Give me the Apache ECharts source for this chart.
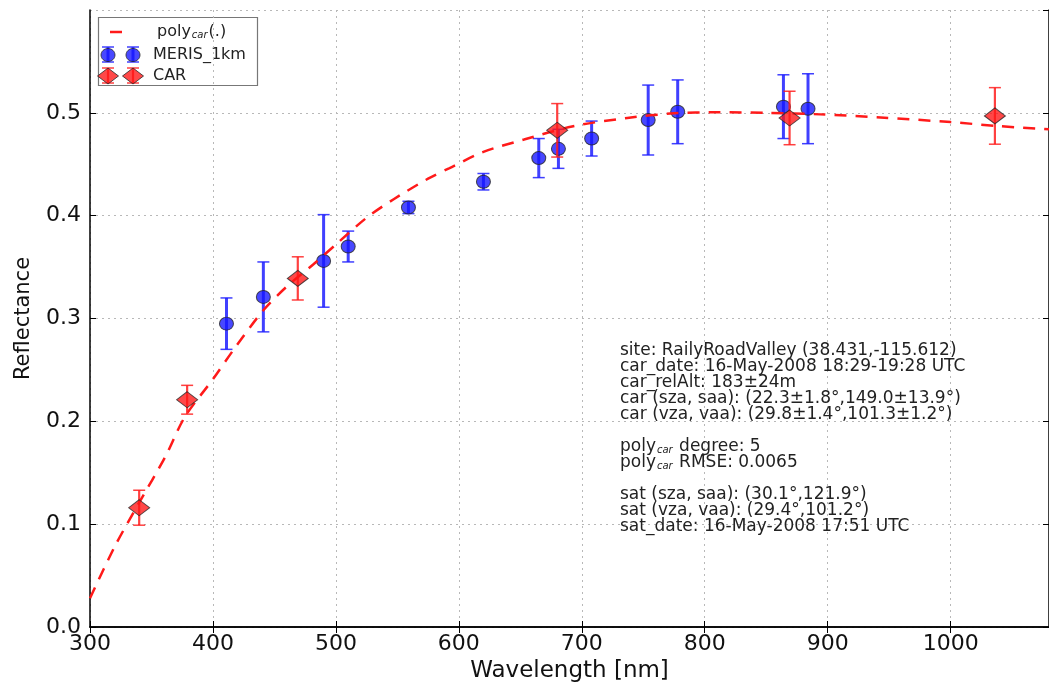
<!DOCTYPE html>
<html>
<head>
<meta charset="utf-8">
<script src="https://cdn.jsdelivr.net/npm/echarts@6/dist/echarts.min.js"></script>
<style>
html,body{margin:0;padding:0;background:#fff;overflow:hidden;}
#chart{width:1049px;height:686px;}
</style>
</head>
<body>
<div id="chart"></div>
<script>
// ---- data ----
const merisWl  = [411, 441, 490, 510, 559, 620, 665, 681, 708, 754, 778, 864, 884];
const merisVal = [0.295, 0.321, 0.356, 0.370, 0.408, 0.433, 0.456, 0.465, 0.475, 0.493, 0.501, 0.506, 0.504];
const merisErr = [0.025, 0.034, 0.045, 0.015, 0.006, 0.008, 0.019, 0.019, 0.017, 0.034, 0.031, 0.031, 0.034];

const carWl  = [340, 379, 469, 680, 869, 1036];
const carVal = [0.116, 0.221, 0.339, 0.483, 0.495, 0.497];
const carErr = [0.017, 0.014, 0.021, 0.026, 0.026, 0.0275];

const curveWl  = [300, 320, 340, 361, 377, 400, 417, 441, 460, 482, 500, 525, 547, 575, 592, 620, 653, 693, 737, 775, 810, 850, 894, 943, 1000, 1040, 1080];
const curveVal = [0.028, 0.078, 0.121, 0.165, 0.204, 0.241, 0.270, 0.308, 0.331, 0.353, 0.372, 0.398, 0.416, 0.436, 0.446, 0.462, 0.474, 0.487, 0.495, 0.4995, 0.5005, 0.500, 0.4985, 0.4955, 0.491, 0.487, 0.484];

const xTicks = [300, 400, 500, 600, 700, 800, 900, 1000];
const yTicks = ['0.0', '0.1', '0.2', '0.3', '0.4', '0.5'];

const infoLines = [
  'site: RailyRoadValley (38.431,-115.612)',
  'car_date: 16-May-2008 18:29-19:28 UTC',
  'car_relAlt: 183\u00b124m',
  'car (sza, saa): (22.3\u00b11.8\u00b0,149.0\u00b113.9\u00b0)',
  'car (vza, vaa): (29.8\u00b11.4\u00b0,101.3\u00b11.2\u00b0)',
  ' ',
  'poly{sub|car} degree: 5',
  'poly{sub|car} RMSE: 0.0065',
  ' ',
  'sat (sza, saa): (30.1\u00b0,121.9\u00b0)',
  'sat (vza, vaa): (29.4\u00b0,101.2\u00b0)',
  'sat_date: 16-May-2008 17:51 UTC'
];

// ---- chart ----
const FONT = 'DejaVu Sans';
const BLUE = 'rgba(20,20,255,0.78)';
const BLUE_BAR = 'rgba(30,30,255,0.85)';
const RED = 'rgba(255,20,20,0.78)';
const RED_BAR = 'rgba(255,30,30,0.85)';

function errBars(color, width) {
  return function (params, api) {
    const x = api.value(0), lo = api.value(1), hi = api.value(2);
    const a = api.coord([x, lo]), b = api.coord([x, hi]);
    const c = 6;
    const st = {stroke: color, lineWidth: width};
    return {
      type: 'group',
      children: [
        {type: 'line', shape: {x1: a[0], y1: a[1], x2: b[0], y2: b[1]}, style: st},
        {type: 'line', shape: {x1: a[0] - c, y1: a[1], x2: a[0] + c, y2: a[1]}, style: {stroke: color, lineWidth: 1.5}},
        {type: 'line', shape: {x1: b[0] - c, y1: b[1], x2: b[0] + c, y2: b[1]}, style: {stroke: color, lineWidth: 1.5}}
      ]
    };
  };
}

const gridLine = {show: true, lineStyle: {color: '#b8b8b8', type: [2, 4], width: 1}};
const tick = {show: true, inside: true, length: 6, lineStyle: {color: '#000', width: 1}};
const axLine = {show: true, lineStyle: {color: '#000', width: 1.5}};

const chart = echarts.init(document.getElementById('chart'));
chart.setOption({
  animation: false,
  backgroundColor: '#fff',
  grid: {left: 90, right: 0, top: 10, bottom: 59, containLabel: false, outerBoundsMode: 'none'},
  xAxis: [{
    type: 'value', min: 300, max: 1080, interval: 100,
    name: 'Wavelength [nm]', nameLocation: 'middle', nameGap: 31,
    nameTextStyle: {fontFamily: FONT, fontSize: 23, color: '#111'},
    axisLine: axLine, axisTick: tick, splitLine: gridLine,
    axisLabel: {fontFamily: FONT, fontSize: 22, color: '#111', margin: 6,
      formatter: v => (xTicks.indexOf(v) >= 0 ? String(v) : '')}
  }, {
    type: 'value', position: 'top', min: 300, max: 1080, interval: 100,
    axisLine: axLine, axisTick: tick, splitLine: {show: false}, axisLabel: {show: false}
  }],
  yAxis: [{
    type: 'value', min: 0, max: 0.6, interval: 0.1,
    name: 'Reflectance', nameLocation: 'middle', nameGap: 56, nameRotate: 90,
    nameTextStyle: {fontFamily: FONT, fontSize: 21, color: '#111'},
    axisLine: axLine, axisTick: tick, splitLine: gridLine,
    axisLabel: {fontFamily: FONT, fontSize: 22, color: '#111', margin: 9, showMaxLabel: false,
      formatter: v => { const s = v.toFixed(1); return yTicks.indexOf(s) >= 0 ? s : ''; }}
  }, {
    type: 'value', position: 'right', min: 0, max: 0.6, interval: 0.1,
    axisLine: axLine, axisTick: tick, splitLine: {show: false}, axisLabel: {show: false}
  }],
  series: [
    {
      type: 'custom', name: 'MERIS_err', z: 3,
      renderItem: errBars(BLUE_BAR, 3),
      data: merisWl.map((w, i) => [w, merisVal[i] - merisErr[i], merisVal[i] + merisErr[i]]),
      encode: {x: 0, y: [1, 2]}
    },
    {
      type: 'scatter', name: 'MERIS_1km', z: 4,
      symbol: 'circle', symbolSize: [14, 13],
      itemStyle: {color: BLUE, borderColor: 'rgba(40,40,40,0.8)', borderWidth: 1, opacity: 1},
      data: merisWl.map((w, i) => [w, merisVal[i]])
    },
    {
      type: 'line', name: 'poly', z: 5,
      smooth: 0.3, showSymbol: false, symbol: 'none',
      lineStyle: {color: '#ff1a1a', width: 2.5, type: [12, 9]},
      data: curveWl.map((w, i) => [w, curveVal[i]])
    },
    {
      type: 'custom', name: 'CAR_err', z: 6,
      renderItem: errBars(RED_BAR, 2.2),
      data: carWl.map((w, i) => [w, carVal[i] - carErr[i], carVal[i] + carErr[i]]),
      encode: {x: 0, y: [1, 2]}
    },
    {
      type: 'scatter', name: 'CAR', z: 7,
      symbol: 'diamond', symbolSize: [21, 16],
      itemStyle: {color: RED, borderColor: 'rgba(40,40,40,0.8)', borderWidth: 1, opacity: 1},
      data: carWl.map((w, i) => [w, carVal[i]])
    }
  ],
  graphic: [
    // info text
    {type: 'text', x: 620, y: 343, z: 10,
      style: {
        text: infoLines.join('\n'),
        fontFamily: FONT, fontSize: 17, lineHeight: 16, fill: '#222', verticalAlign: 'top',
        rich: {sub: {fontFamily: FONT, fontSize: 10, fontStyle: 'italic', fill: '#222', lineHeight: 16, verticalAlign: 'bottom', padding: [4, 1, 0, 1]}}
      }},
    // legend
    {type: 'group', z: 20, children: [
      {type: 'rect', shape: {x: 98.5, y: 17.5, width: 159, height: 68}, style: {fill: '#fff', stroke: '#777', lineWidth: 1.2}},
      {type: 'line', shape: {x1: 110, y1: 32, x2: 122, y2: 32}, style: {stroke: '#ff1a1a', lineWidth: 2.5}},
      {type: 'text', x: 157, y: 32, style: {text: 'poly{sub|car}(.)', fontFamily: FONT, fontSize: 16, fill: '#222', verticalAlign: 'middle',
        rich: {sub: {fontFamily: FONT, fontSize: 10, fontStyle: 'italic', fill: '#222', verticalAlign: 'bottom', padding: [4, 1, 0, 1]}}}},
      // MERIS row
      {type: 'line', shape: {x1: 108, y1: 47, x2: 108, y2: 62}, style: {stroke: BLUE_BAR, lineWidth: 3}},
      {type: 'line', shape: {x1: 102, y1: 47, x2: 114, y2: 47}, style: {stroke: BLUE_BAR, lineWidth: 1.5}},
      {type: 'line', shape: {x1: 102, y1: 62, x2: 114, y2: 62}, style: {stroke: BLUE_BAR, lineWidth: 1.5}},
      {type: 'ellipse', shape: {cx: 108, cy: 55, rx: 7, ry: 6.5}, style: {fill: BLUE, stroke: 'rgba(40,40,40,0.8)', lineWidth: 1}},
      {type: 'line', shape: {x1: 133, y1: 47, x2: 133, y2: 62}, style: {stroke: BLUE_BAR, lineWidth: 3}},
      {type: 'line', shape: {x1: 127, y1: 47, x2: 139, y2: 47}, style: {stroke: BLUE_BAR, lineWidth: 1.5}},
      {type: 'line', shape: {x1: 127, y1: 62, x2: 139, y2: 62}, style: {stroke: BLUE_BAR, lineWidth: 1.5}},
      {type: 'ellipse', shape: {cx: 133, cy: 55, rx: 7, ry: 6.5}, style: {fill: BLUE, stroke: 'rgba(40,40,40,0.8)', lineWidth: 1}},
      {type: 'text', x: 153, y: 55, style: {text: 'MERIS_1km', fontFamily: FONT, fontSize: 16, fill: '#222', verticalAlign: 'middle'}},
      // CAR row
      {type: 'line', shape: {x1: 108, y1: 68, x2: 108, y2: 83}, style: {stroke: RED_BAR, lineWidth: 2.2}},
      {type: 'line', shape: {x1: 102, y1: 68, x2: 114, y2: 68}, style: {stroke: RED_BAR, lineWidth: 1.5}},
      {type: 'line', shape: {x1: 102, y1: 83, x2: 114, y2: 83}, style: {stroke: RED_BAR, lineWidth: 1.5}},
      {type: 'polygon', shape: {points: [[97.5, 76], [108, 68], [118.5, 76], [108, 84]]}, style: {fill: RED, stroke: 'rgba(40,40,40,0.8)', lineWidth: 1}},
      {type: 'line', shape: {x1: 133, y1: 68, x2: 133, y2: 83}, style: {stroke: RED_BAR, lineWidth: 2.2}},
      {type: 'line', shape: {x1: 127, y1: 68, x2: 139, y2: 68}, style: {stroke: RED_BAR, lineWidth: 1.5}},
      {type: 'line', shape: {x1: 127, y1: 83, x2: 139, y2: 83}, style: {stroke: RED_BAR, lineWidth: 1.5}},
      {type: 'polygon', shape: {points: [[122.5, 76], [133, 68], [143.5, 76], [133, 84]]}, style: {fill: RED, stroke: 'rgba(40,40,40,0.8)', lineWidth: 1}},
      {type: 'text', x: 153, y: 76, style: {text: 'CAR', fontFamily: FONT, fontSize: 16, fill: '#222', verticalAlign: 'middle'}}
    ]}
  ]
});
</script>
</body>
</html>
